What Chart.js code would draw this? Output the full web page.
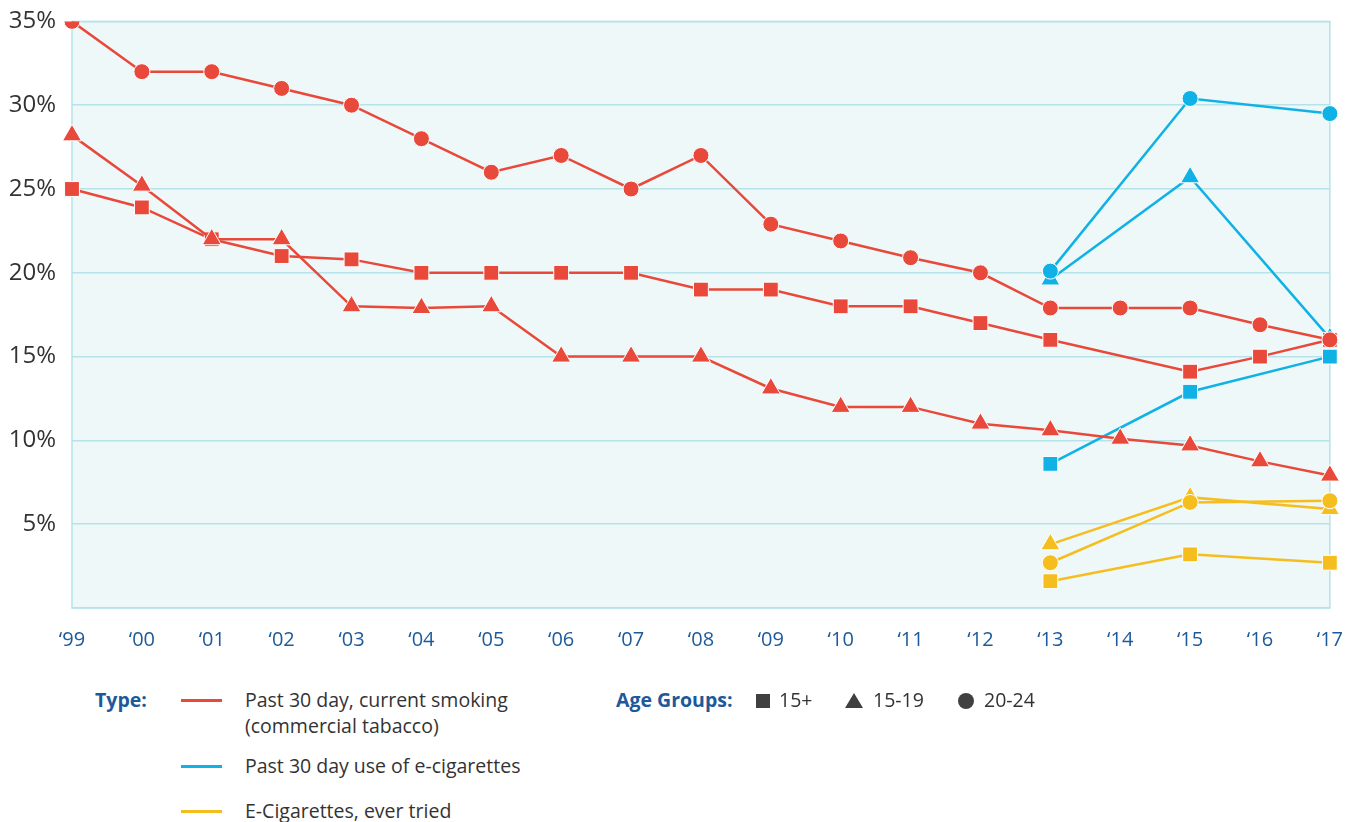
<!DOCTYPE html>
<html>
<head>
<meta charset="utf-8">
<script src="https://cdn.jsdelivr.net/npm/chart.js@4"></script>
<style>
    body { margin: 0; background: #fff; font-family: "Open Sans", sans-serif; }
    #wrap { position: relative; width: 1352px; height: 822px; overflow: hidden; }
    #chartBox { position: absolute; left: 0; top: -9px; width: 1355px; height: 669px; }
    .lg { position: absolute; font-size: 19.5px; color: #333; line-height: 26px; white-space: nowrap; }
    .hd { color: #1c5a9a; font-weight: bold; }
    .ln { position: absolute; width: 41px; height: 3px; }
</style>
</head>
<body>
<div id="wrap">
    <div id="chartBox"><canvas id="chart"></canvas></div>

    <!-- 凡例：種別 -->
    <div class="lg hd" style="left:95px; top:687px;">Type:</div>
    <div class="ln" style="left:181px; top:699px; background:#e8493a;"></div>
    <div class="lg" style="left:245px; top:687px;">Past 30 day, current smoking<br>(commercial tabacco)</div>
    <div class="ln" style="left:181px; top:765px; background:#10b2e6;"></div>
    <div class="lg" style="left:245px; top:753px;">Past 30 day use of e-cigarettes</div>
    <div class="ln" style="left:181px; top:810px; background:#f5be1e;"></div>
    <div class="lg" style="left:245px; top:798px;">E-Cigarettes, ever tried</div>

    <!-- 凡例：年齢層 -->
    <div class="lg hd" style="left:616px; top:687px;">Age Groups:</div>
    <canvas id="ageIcons" width="240" height="30" style="position:absolute; left:750px; top:686px;"></canvas>
    <div class="lg" style="left:779px; top:687px;">15+</div>
    <div class="lg" style="left:873px; top:687px;">15-19</div>
    <div class="lg" style="left:984px; top:687px;">20-24</div>
</div>

<script>
"use strict";

// x軸：年
const years = ["‘99", "‘00", "‘01", "‘02", "‘03", "‘04", "‘05", "‘06", "‘07", "‘08",
               "‘09", "‘10", "‘11", "‘12", "‘13", "‘14", "‘15", "‘16", "‘17"];

// 喫煙（紙巻）
const smoke2024 = [35, 32, 32, 31, 30, 28, 26, 27, 25, 27, 22.9, 21.9, 20.9, 20, 17.9, 17.9, 17.9, 16.9, 16];
const smoke1519 = [28.2, 25.2, 22, 22, 18, 17.9, 18, 15, 15, 15, 13.1, 12, 12, 11, 10.6, 10.1, 9.7, 8.75, 7.9];
const smoke15   = [25, 23.9, 22, 21, 20.8, 20, 20, 20, 20, 19, 19, 18, 18, 17, 16, null, 14.1, 15, 16];

// 電子たばこ（過去30日）
const ecig2024 = [null, null, null, null, null, null, null, null, null, null, null, null, null, null, 20.1, null, 30.4, null, 29.5];
const ecig1519 = [null, null, null, null, null, null, null, null, null, null, null, null, null, null, 19.6, null, 25.7, null, 16.1];
const ecig15   = [null, null, null, null, null, null, null, null, null, null, null, null, null, null, 8.6, null, 12.9, null, 15];

// 電子たばこ（使用経験）
const tried2024 = [null, null, null, null, null, null, null, null, null, null, null, null, null, null, 2.7, null, 6.3, null, 6.4];
const tried1519 = [null, null, null, null, null, null, null, null, null, null, null, null, null, null, 3.8, null, 6.6, null, 5.9];
const tried15   = [null, null, null, null, null, null, null, null, null, null, null, null, null, null, 1.6, null, 3.2, null, 2.7];

const RED = "#e8493a";
const BLUE = "#10b2e6";
const YELLOW = "#f5be1e";

// y軸目盛
const yTicks = [5, 10, 15, 20, 25, 30, 35];

function series(data, color, shape) {
    const size = shape === "circle" ? 8 : (shape === "triangle" ? 11 : 10.5);
    return {
        data: data,
        borderColor: color,
        backgroundColor: color,
        pointBackgroundColor: color,
        pointBorderColor: "#ffffff",
        pointBorderWidth: 1,
        pointStyle: shape === "square" ? "rect" : shape,
        pointRadius: size,
        pointHoverRadius: size,
        borderWidth: 2.5,
        tension: 0,
        spanGaps: true
    };
}

// プロット領域の背景と枠
const plotBg = {
    id: "plotBg",
    beforeDraw(chart) {
        const a = chart.chartArea;
        const ctx = chart.ctx;
        ctx.save();
        ctx.fillStyle = "#eef8f9";
        ctx.fillRect(a.left, a.top, a.right - a.left, a.bottom - a.top);
        ctx.restore();
    },
    beforeDatasetsDraw(chart) {
        const a = chart.chartArea;
        const ctx = chart.ctx;
        ctx.save();
        ctx.strokeStyle = "#b6e3ea";
        ctx.lineWidth = 1.5;
        ctx.strokeRect(a.left, a.top, a.right - a.left, a.bottom - a.top);
        ctx.restore();
    }
};

const ctx = document.getElementById("chart");
new Chart(ctx, {
    type: "line",
    data: {
        labels: years,
        datasets: [
            series(smoke2024, RED, "circle"),
            series(smoke1519, RED, "triangle"),
            series(smoke15, RED, "square"),
            series(ecig2024, BLUE, "circle"),
            series(ecig1519, BLUE, "triangle"),
            series(ecig15, BLUE, "square"),
            series(tried2024, YELLOW, "circle"),
            series(tried1519, YELLOW, "triangle"),
            series(tried15, YELLOW, "square")
        ]
    },
    options: {
        responsive: true,
        maintainAspectRatio: false,
        animation: false,
        layout: { padding: { top: 8, right: 19, left: 0, bottom: 0 } },
        plugins: {
            legend: { display: false },
            tooltip: { enabled: false }
        },
        scales: {
            x: {
                offset: false,
                grid: { display: false },
                border: { display: false },
                ticks: {
                    color: "#1c5a9a",
                    font: { family: "Open Sans", size: 20 },
                    padding: 12,
                    maxRotation: 0,
                    autoSkip: false
                },
                afterFit: s => { s.height = 52; }
            },
            y: {
                min: 0,
                max: 35,
                afterBuildTicks: s => { s.ticks = [0].concat(yTicks).map(v => ({ value: v })); },
                grid: { color: "#b6e3ea", lineWidth: 1.5, drawTicks: false },
                border: { display: false },
                ticks: {
                    color: "#333333",
                    font: { family: "Open Sans", size: 24 },
                    padding: 16,
                    callback: v => v === 0 ? "" : v + "%"
                },
                afterFit: s => { s.width = 72; }
            }
        }
    },
    plugins: [plotBg]
});

// 年齢層アイコン
const ic = document.getElementById("ageIcons").getContext("2d");
ic.fillStyle = "#404040";
ic.fillRect(6, 8, 14, 14);
ic.beginPath();
ic.moveTo(104, 7); ic.lineTo(113, 22); ic.lineTo(95, 22); ic.closePath(); ic.fill();
ic.beginPath();
ic.arc(216, 15, 8, 0, Math.PI * 2); ic.fill();
</script>
</body>
</html>
